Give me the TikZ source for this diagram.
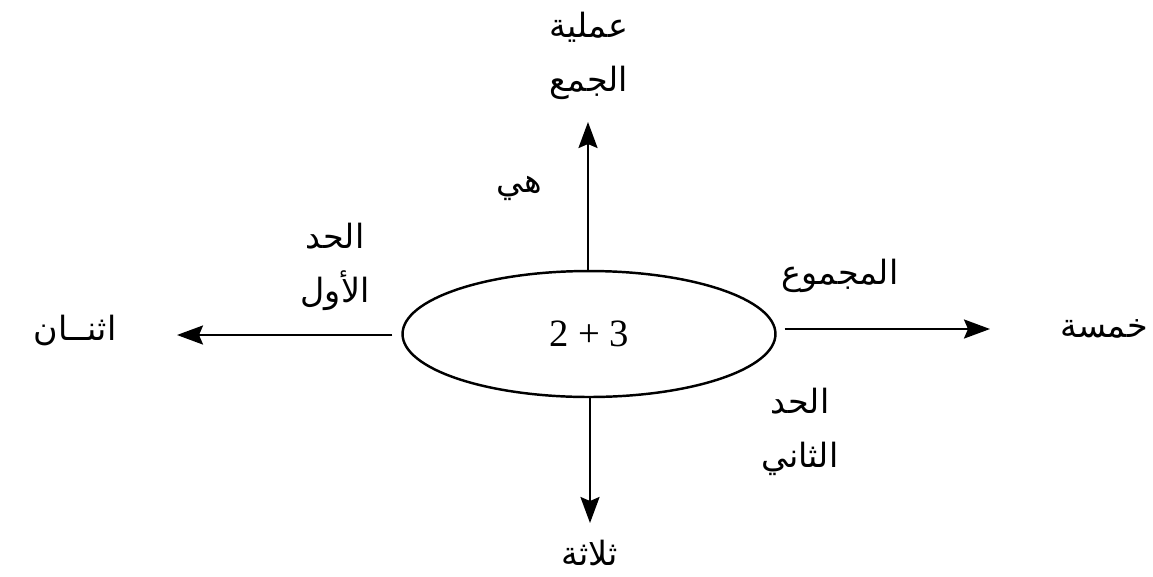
\documentclass[tikz,border=0pt]{standalone}
\usepackage{fontspec}
\usepackage{tikz}
\usetikzlibrary{arrows.meta,shapes.geometric}
\setmainfont{Liberation Serif}
\newfontfamily\arabicfont[Script=Arabic]{DejaVu Sans}
\TeXXeTstate=1
\newcommand{\artxt}[1]{{\arabicfont\beginR #1\endR}}
\tikzset{
  arr/.style={line width=1.4pt,-{Stealth[length=0.52cm,width=0.38cm,inset=0.08cm]}},
  lbl/.style={align=center,font=\fontsize{19}{31}\selectfont,inner sep=0pt},
}

\begin{document}
\begin{tikzpicture}[x=0.02cm,y=-0.02cm]
\path[use as bounding box] (0,0) rectangle (1153,576);
\node[draw,ellipse,line width=1.4pt,minimum width=7.46cm,minimum height=2.52cm,inner sep=0pt,
  font=\fontsize{22}{26}\selectfont] (sum) at (589,334) {2 + 3};
\coordinate (uptip) at (588,122);
\coordinate (dntip) at (590,523);
\coordinate (lftip) at (177,335);
\coordinate (rttip) at (990,329);
\node[lbl] (op) at (589,56) {\artxt{عملية}\\\artxt{الجمع}};
\node[lbl] (is) at (519,188) {\artxt{هي}};
\node[lbl] (first) at (335,267) {\artxt{الحد}\\\artxt{الأول}};
\node[lbl] (two) at (75,331) {\artxt{اثنــان}};
\node[lbl] (total) at (840,276) {\artxt{المجموع}};
\node[lbl] (five) at (1104,329) {\artxt{خمسة}};
\node[lbl] (second) at (800,432) {\artxt{الحد}\\\artxt{الثاني}};
\node[lbl] (three) at (590,553) {\artxt{ثلاثة}};
\draw[arr] (sum.north -| uptip) -- (uptip);
\draw[arr] (sum.south -| dntip) -- (dntip);
\draw[arr,shorten <=0.18cm] (sum.west |- lftip) -- (lftip);
\draw[arr,shorten <=0.16cm] (sum.east |- rttip) -- (rttip);
\end{tikzpicture}
\end{document}
